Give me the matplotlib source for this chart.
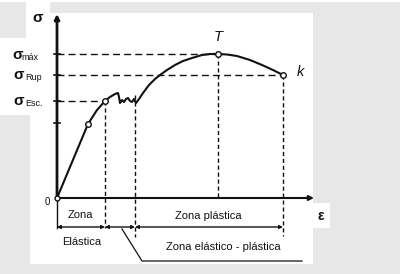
import matplotlib
matplotlib.use("Agg")
import matplotlib.pyplot as plt
from matplotlib.patches import Rectangle, FancyArrowPatch

# ---- data (strain units, stress units; origin at 0,0) ----
curve_eps = [0, 31, 40, 48, 53, 58, 61, 62, 63, 65, 67, 69, 71, 73, 75, 77, 79,
             82, 86, 92, 98, 103, 110, 118, 126, 135, 145, 153, 161, 170, 180,
             193, 205, 216, 226]
curve_sig = [0, 74, 88, 97, 101, 104, 105, 101, 95, 98, 96, 99, 100, 97, 96, 99, 95,
             99, 105, 113, 119, 123, 128, 133, 137, 140, 143, 144, 144, 143.5, 142,
             138, 133, 128, 123]

point_names = ["P", "Esc", "T", "k"]
point_eps = [31, 48, 161, 226]
point_sig = [74, 97, 144, 123]

sig_max = 144
sig_rup = 123
sig_esc = 97
yield_end_eps = 78
yield_end_sig = 103
tick_sig = [144, 123, 97, 75]

zone_bounds = [0, 48, 78, 226]

INK = "#111111"
GREY = "#e7e7e7"

fig = plt.figure(figsize=(4.0, 2.74), dpi=100)
fig.patch.set_facecolor(GREY)
ax = fig.add_axes([0, 0, 1, 1])
ax.set_xlim(-57, 343)
ax.set_ylim(-76, 198)
ax.axis("off")

def prect(x0, y0, x1, y1, color="white"):
    # rectangle given in pixel coords of the picture (top-left origin)
    ax.add_patch(Rectangle((x0 - 57, 198 - y1), x1 - x0, y1 - y0,
                           facecolor=color, edgecolor="none", zorder=0))

prect(0, 0, 400, 2)
prect(26, 0, 50, 38)
prect(30, 13, 313, 264)
prect(0, 38, 50, 115)
prect(313, 203, 330, 228)

FONT = "Liberation Sans"

# axes
ax.annotate("", xy=(0, 184), xytext=(0, -1),
            arrowprops=dict(arrowstyle="-|>", color=INK, lw=2.0,
                            mutation_scale=7, shrinkA=0, shrinkB=0), zorder=3)
ax.annotate("", xy=(257, 0), xytext=(-1, 0),
            arrowprops=dict(arrowstyle="-|>", color=INK, lw=1.5,
                            mutation_scale=7, shrinkA=0, shrinkB=0), zorder=3)
for s in tick_sig:
    ax.plot([-3, 3], [s, s], color=INK, lw=1.2, zorder=3)

# dashed guide lines
dash_h = dict(color=INK, lw=1.0, dashes=(5, 3), zorder=2)
ax.plot([0, point_eps[2]], [sig_max, sig_max], **dash_h)
ax.plot([0, point_eps[3]], [sig_rup, sig_rup], **dash_h)
ax.plot([0, point_eps[1]], [sig_esc, sig_esc], **dash_h)

dash_v = dict(color=INK, lw=1.0, dashes=(3, 2), zorder=2)
ax.plot([point_eps[1], point_eps[1]], [sig_esc, -30], **dash_v)
ax.plot([yield_end_eps, yield_end_eps], [yield_end_sig, -39], **dash_v)
ax.plot([point_eps[2], point_eps[2]], [sig_max, 0], **dash_v)
ax.plot([point_eps[3], point_eps[3]], [sig_rup, -38], **dash_v)
ax.plot([0, 0], [0, -30], color=INK, lw=1.0, zorder=2)

# curve
ax.plot(curve_eps, curve_sig, color=INK, lw=1.5, zorder=4,
        solid_joinstyle="round", solid_capstyle="round")
ax.plot(point_eps, point_sig, "o", ms=4, mfc="white", mec=INK, mew=1.0, zorder=5)
ax.plot([0], [0], "o", ms=3.5, mfc="white", mec=INK, mew=1.0, zorder=5)

# dimension arrows
for a, b in zip(zone_bounds[:-1], zone_bounds[1:]):
    ax.annotate("", xy=(b, -29), xytext=(a, -29),
                arrowprops=dict(arrowstyle="<|-|>", color=INK, lw=1.0,
                                mutation_scale=5, shrinkA=0, shrinkB=0), zorder=3)

# leader line
ax.plot([65, 85, 245], [-31, -63, -63], color=INK, lw=0.9, zorder=3)

# texts
tk = dict(color=INK, family=FONT, zorder=6)
ax.text(-19, 180, "σ", fontsize=11, ha="center", va="center", fontweight="bold", **tk)
ax.text(-45, 143, "σ", fontsize=11, ha="left", va="center", fontweight="bold", **tk)
ax.text(-36, 140, "máx", fontsize=6.5, ha="left", va="center", **tk)
ax.text(-44, 123, "σ", fontsize=11, ha="left", va="center", fontweight="bold", **tk)
ax.text(-32, 121, "Rup", fontsize=6.5, ha="left", va="center", **tk)
ax.text(-44, 97, "σ", fontsize=11, ha="left", va="center", fontweight="bold", **tk)
ax.text(-32, 95, "Esc.", fontsize=6.5, ha="left", va="center", **tk)
ax.text(-10, -4, "0", fontsize=7, ha="center", va="center", **tk)
ax.text(161, 161, "T", fontsize=10.5, ha="center", va="center", style="italic", **tk)
ax.text(243, 126, "k", fontsize=10.5, ha="center", va="center", style="italic", **tk)
ax.text(264, -18, "ε", fontsize=10, ha="center", va="center", fontweight="bold", **tk)
ax.text(23, -17, "Zona", fontsize=8, ha="center", va="center", **tk)
ax.text(25, -44, "Elástica", fontsize=8, ha="center", va="center", **tk)
ax.text(151, -18, "Zona plástica", fontsize=8, ha="center", va="center", **tk)
ax.text(166, -49, "Zona elástico - plástica", fontsize=8, ha="center", va="center", **tk)

fig.savefig("out.png", dpi=100, facecolor=GREY)
